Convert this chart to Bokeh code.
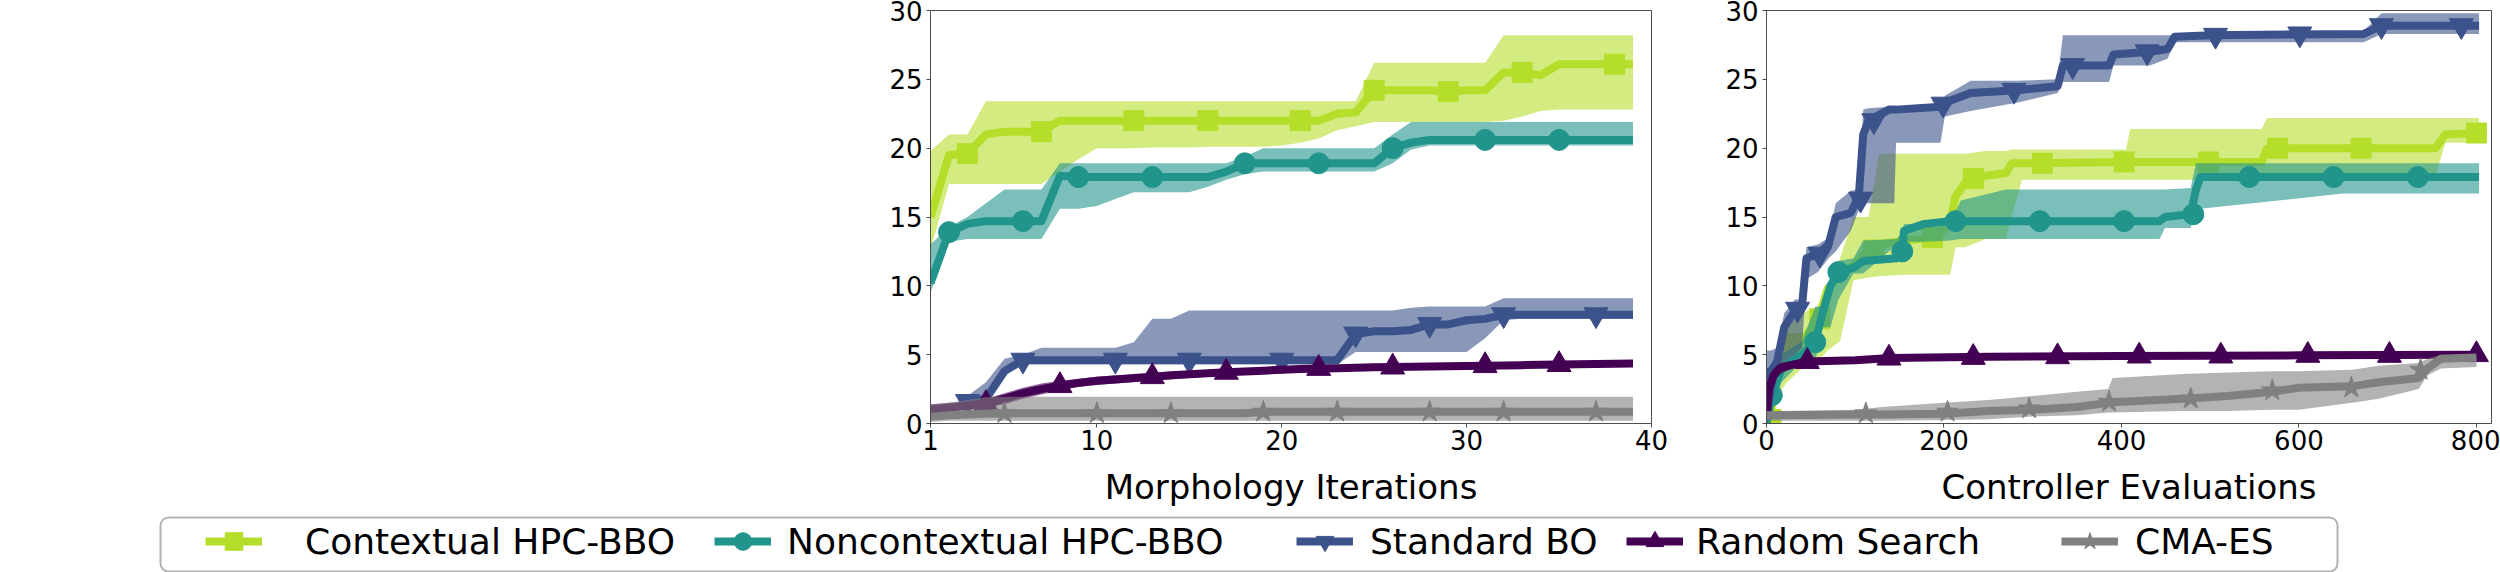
from bokeh.plotting import figure
from bokeh.models import (Range1d, FixedTicker, Legend, LegendItem, BoxAnnotation,
                          Row, Column)
from bokeh.embed import file_html
from bokeh.resources import INLINE

FONT = "DejaVu Sans"

series_names = ["Contextual HPC-BBO", "Noncontextual HPC-BBO", "Standard BO",
                "Random Search", "CMA-ES"]
series_colors = ["#b5de2b", "#21958b", "#3b528b", "#440154", "#808080"]
series_markers = ["square", "circle", "inverted_triangle", "triangle", "star"]
marker_sizes = [20, 21, 24, 24, 23]

# ---------------- left panel: Morphology Iterations ----------------
morph_ticks = [1, 10, 20, 30, 40]
morph_x = list(range(1, 40))
std_morph_x = list(range(3, 40))

ctx_m_y = [15.0, 19.5, 19.6, 21.0, 21.2, 21.2, 21.2, 22.0, 22.0, 22.0, 22.0, 22.0, 22.0,
           22.0, 22.0, 22.0, 22.0, 22.0, 22.0, 22.0, 22.0, 22.0, 22.5, 22.6, 24.2, 24.2,
           24.2, 24.2, 24.1, 24.2, 24.2, 25.5, 25.5, 25.3, 26.1, 26.1, 26.1, 26.1, 26.1]
ctx_m_hi = [19.8, 21.0, 21.0, 23.4, 23.4, 23.4, 23.4, 23.4, 23.4, 23.4, 23.4, 23.4, 23.4,
            23.4, 23.4, 23.4, 23.4, 23.4, 23.4, 23.4, 23.4, 23.4, 23.4, 23.4, 26.2, 26.2,
            26.2, 26.2, 26.2, 26.2, 26.2, 28.2, 28.2, 28.2, 28.2, 28.2, 28.2, 28.2, 28.2]
ctx_m_lo = [12.6, 17.4, 17.4, 17.4, 17.4, 17.4, 17.4, 18.3, 19.2, 20.0, 20.0, 20.0, 20.05,
            20.05, 20.05, 20.1, 20.1, 20.1, 20.1, 20.2, 20.4, 20.7, 21.3, 21.6, 21.9, 21.9,
            21.9, 21.9, 21.9, 21.9, 21.9, 22.0, 22.3, 22.7, 22.8, 22.8, 22.8, 22.8, 22.8]

nctx_m_y = [10.2, 13.9, 14.5, 14.7, 14.7, 14.7, 14.7, 18.0, 17.9, 17.9, 17.9, 17.9, 17.9,
            17.9, 17.9, 17.9, 18.3, 18.9, 18.9, 18.9, 18.9, 18.9, 18.9, 18.9, 18.9, 20.0,
            20.4, 20.6, 20.6, 20.6, 20.6, 20.6, 20.6, 20.6, 20.6, 20.6, 20.6, 20.6, 20.6]
nctx_m_hi = [13.0, 14.3, 15.0, 16.0, 17.0, 17.0, 17.0, 18.9, 18.9, 18.9, 18.9, 18.9, 18.9,
             18.9, 18.9, 18.9, 18.9, 19.4, 20.0, 20.0, 20.0, 20.0, 20.0, 20.0, 20.0, 21.0,
             21.9, 21.9, 21.9, 21.9, 21.9, 21.9, 21.9, 21.9, 21.9, 21.9, 21.9, 21.9, 21.9]
nctx_m_lo = [9.5, 13.2, 13.4, 13.4, 13.4, 13.4, 13.4, 15.6, 15.6, 15.8, 16.3, 16.8, 16.8,
             16.8, 16.8, 17.2, 17.7, 18.1, 18.3, 18.3, 18.3, 18.3, 18.3, 18.3, 18.3, 18.9,
             19.9, 20.2, 20.2, 20.2, 20.2, 20.2, 20.2, 20.2, 20.2, 20.2, 20.2, 20.2, 20.2]

std_m_y = [1.6, 1.8, 3.8, 4.6, 4.6, 4.6, 4.6, 4.6, 4.6, 4.6, 4.6, 4.6, 4.6, 4.6, 4.6,
           4.6, 4.6, 4.6, 4.6, 4.6, 4.6, 6.5, 6.7, 6.7, 6.8, 7.2, 7.2, 7.5, 7.6, 7.9,
           7.9, 7.9, 7.9, 7.9, 7.9, 7.9, 7.9]
std_m_hi = [2.0, 3.0, 4.7, 5.0, 5.5, 5.5, 5.5, 5.5, 5.5, 5.9, 7.6, 7.6, 8.2, 8.2, 8.2,
            8.2, 8.2, 8.2, 8.2, 8.2, 8.2, 8.2, 8.2, 8.2, 8.4, 8.5, 8.5, 8.5, 8.5, 9.1,
            9.1, 9.1, 9.1, 9.1, 9.1, 9.1, 9.1]
std_m_lo = [1.3, 1.5, 3.5, 4.3, 4.3, 4.3, 4.3, 4.3, 4.3, 4.3, 4.3, 4.3, 4.3, 4.3, 4.3,
            4.3, 4.3, 4.3, 4.3, 4.3, 4.3, 5.2, 5.2, 5.2, 5.2, 5.2, 5.2, 5.2, 6.2, 7.5,
            7.6, 7.6, 7.6, 7.6, 7.6, 7.6, 7.6]

rnd_m_y = [1.0, 1.15, 1.3, 1.45, 1.8, 2.2, 2.5, 2.75, 2.95, 3.1, 3.2, 3.3, 3.4, 3.5,
           3.58, 3.65, 3.72, 3.78, 3.84, 3.9, 3.95, 4.0, 4.02, 4.05, 4.08, 4.1, 4.12,
           4.14, 4.16, 4.18, 4.2, 4.22, 4.24, 4.26, 4.28, 4.3, 4.32, 4.34, 4.35]
rnd_m_hi = [1.4, 1.5, 1.6, 1.8, 2.2, 2.6, 2.9, 3.1, 3.25, 3.4, 3.5, 3.55, 3.65, 3.75,
            3.8, 3.85, 3.9, 3.95, 4.0, 4.05, 4.1, 4.15, 4.17, 4.2, 4.22, 4.24, 4.26,
            4.28, 4.3, 4.32, 4.34, 4.36, 4.38, 4.4, 4.42, 4.44, 4.46, 4.48, 4.5]
rnd_m_lo = [0.7, 0.85, 1.0, 1.15, 1.4, 1.8, 2.1, 2.4, 2.65, 2.8, 2.9, 3.0, 3.1, 3.2,
            3.3, 3.4, 3.5, 3.58, 3.65, 3.7, 3.75, 3.8, 3.84, 3.88, 3.92, 3.95, 3.97,
            4.0, 4.02, 4.04, 4.06, 4.08, 4.1, 4.12, 4.14, 4.16, 4.18, 4.2, 4.22]

cma_m_y = [0.5, 0.6, 0.65, 0.7, 0.75, 0.75, 0.75, 0.75, 0.75, 0.75, 0.75, 0.75, 0.75,
           0.75, 0.75, 0.75, 0.75, 0.75, 0.85, 0.85, 0.85, 0.85, 0.85, 0.85, 0.85, 0.85,
           0.85, 0.85, 0.85, 0.85, 0.85, 0.85, 0.85, 0.85, 0.85, 0.85, 0.85, 0.85, 0.85]
cma_m_hi = [1.3, 1.5, 1.7, 1.9, 1.95, 1.95, 1.95, 1.95, 1.95, 1.95, 1.95, 1.95, 1.95,
            1.95, 1.95, 1.95, 1.95, 1.95, 1.95, 1.95, 1.95, 1.95, 1.95, 1.95, 1.95, 1.95,
            1.95, 1.95, 1.95, 1.95, 1.95, 1.95, 1.95, 1.95, 1.95, 1.95, 1.95, 1.95, 1.95]
cma_m_lo = [0.1, 0.2, 0.2, 0.2, 0.2, 0.2, 0.2, 0.2, 0.2, 0.2, 0.2, 0.2, 0.2,
            0.2, 0.2, 0.2, 0.2, 0.2, 0.2, 0.2, 0.2, 0.2, 0.2, 0.2, 0.2, 0.2,
            0.2, 0.2, 0.2, 0.2, 0.2, 0.2, 0.2, 0.2, 0.2, 0.2, 0.2, 0.2, 0.2]

# markers (left panel)
ctx_m_mx = [3, 7, 12, 16, 21, 25, 29, 33, 38]
ctx_m_my = [19.6, 21.2, 22.0, 22.0, 22.0, 24.2, 24.1, 25.5, 26.1]
nctx_m_mx = [2, 6, 9, 13, 18, 22, 26, 31, 35]
nctx_m_my = [13.9, 14.7, 17.9, 17.9, 18.9, 18.9, 20.0, 20.6, 20.6]
std_m_mx = [3, 6, 11, 15, 20, 24, 28, 32, 37]
std_m_my = [1.6, 4.6, 4.6, 4.6, 4.6, 6.5, 7.2, 7.9, 7.9]
rnd_m_mx = [4, 8, 13, 17, 22, 26, 31, 35]
rnd_m_my = [1.45, 2.75, 3.4, 3.72, 4.0, 4.1, 4.2, 4.28]
cma_m_mx = [5, 10, 14, 19, 23, 28, 32, 37]
cma_m_my = [0.75, 0.75, 0.75, 0.85, 0.85, 0.85, 0.85, 0.85]

# ---------------- right panel: Controller Evaluations ----------------
ctrl_ticks = [0, 200, 400, 600, 800]

ctx_c_x = [0, 4, 12, 23, 40, 58, 69, 83, 98, 115, 127, 155, 190, 207, 213, 224, 247,
           270, 276, 288, 405, 410, 558, 564, 754, 765, 803]
ctx_c_y = [0.0, 0.5, 3.5, 5.6, 6.0, 7.5, 9.8, 10.8, 11.5, 12.6, 13.0, 13.3, 13.5, 14.5,
           16.5, 17.5, 18.0, 18.2, 18.9, 18.9, 19.0, 19.0, 19.0, 20.0, 20.0, 21.0, 21.1]
ctx_c_hi = [0.5, 1.5, 5.0, 7.0, 8.0, 8.5, 10.0, 12.0, 15.0, 15.0, 19.6, 19.6, 19.6, 19.6,
            19.6, 19.6, 19.8, 19.8, 19.9, 19.9, 19.9, 21.4, 21.4, 22.2, 22.2, 22.2, 22.2]
ctx_c_lo = [0.0, 0.0, 2.0, 3.0, 4.0, 4.5, 5.3, 6.0, 10.4, 10.6, 10.7, 10.8, 10.8, 10.8,
            12.8, 12.8, 13.4, 13.4, 15.0, 17.7, 17.7, 17.7, 17.7, 18.0, 18.0, 20.4, 20.4]

nctx_c_x = [0, 6, 17, 40, 55, 63, 72, 81, 98, 109, 147, 153, 155, 178, 207, 219, 270,
            443, 449, 478, 484, 489, 650, 803]
nctx_c_y = [0.0, 2.0, 4.0, 5.0, 5.9, 8.0, 10.0, 11.0, 11.3, 11.8, 12.0, 12.5, 14.0, 14.5,
            14.7, 14.7, 14.7, 14.7, 15.0, 15.2, 17.0, 17.9, 17.9, 17.9]
nctx_c_hi = [1.0, 3.0, 5.0, 6.0, 8.5, 8.5, 9.5, 11.8, 12.0, 13.3, 13.4, 14.0, 14.5, 14.5,
             14.6, 16.2, 17.0, 17.0, 17.0, 17.1, 18.9, 18.9, 18.9, 18.9]
nctx_c_lo = [0.0, 1.0, 3.0, 4.5, 4.5, 7.0, 7.0, 9.0, 10.9, 10.9, 13.0, 13.2, 13.2, 13.2,
             13.3, 13.4, 13.4, 13.4, 14.2, 14.2, 15.6, 15.6, 16.7, 16.7]

std_c_x = [0, 5, 12, 20, 32, 40, 45, 58, 70, 78, 95, 104, 109, 115, 138, 144, 146, 196,
           201, 230, 282, 328, 334, 386, 391, 432, 452, 460, 501, 673, 693, 803]
std_c_y = [3.0, 3.8, 4.5, 7.0, 8.2, 8.5, 12.0, 12.3, 13.0, 15.0, 15.3, 16.5, 21.0, 22.0,
           22.8, 22.8, 22.8, 23.0, 23.3, 24.0, 24.2, 24.5, 26.0, 26.0, 26.8, 27.0, 27.2,
           28.1, 28.2, 28.3, 28.9, 28.9]
std_c_hi = [5.3, 5.3, 5.5, 8.0, 9.0, 9.0, 12.8, 13.0, 13.5, 16.0, 16.9, 17.0, 22.8, 22.9,
            23.0, 23.0, 23.0, 23.1, 23.8, 24.9, 24.9, 25.0, 28.2, 28.2, 28.2, 28.2, 28.2,
            28.2, 28.5, 28.5, 29.8, 29.8]
std_c_lo = [0.0, 0.5, 3.5, 4.5, 5.0, 5.5, 10.5, 11.0, 12.0, 12.5, 14.0, 15.5, 16.0, 16.0,
            16.0, 16.0, 20.4, 20.4, 22.3, 22.7, 23.3, 24.0, 24.8, 24.8, 26.0, 26.0, 26.5,
            27.7, 27.7, 27.7, 28.3, 28.3]

rnd_c_x = [0, 3, 8, 15, 25, 45, 100, 140, 250, 400, 600, 800]
rnd_c_y = [0.5, 2.5, 3.5, 4.0, 4.2, 4.5, 4.6, 4.75, 4.85, 4.9, 4.95, 5.0]
rnd_c_hi = [1.0, 3.2, 4.0, 4.4, 4.5, 4.75, 4.8, 4.95, 5.05, 5.1, 5.15, 5.2]
rnd_c_lo = [0.0, 1.8, 3.0, 3.6, 3.9, 4.25, 4.4, 4.55, 4.65, 4.7, 4.75, 4.8]

cma_c_x = [0, 100, 130, 200, 250, 300, 350, 385, 390, 470, 520, 570, 600, 660, 690,
           735, 745, 760, 800]
cma_c_y = [0.6, 0.65, 0.65, 0.7, 0.9, 1.0, 1.2, 1.5, 1.55, 1.8, 2.0, 2.3, 2.6, 2.7, 3.0,
           3.3, 4.0, 4.7, 4.8]
cma_c_hi = [0.9, 1.0, 1.2, 1.5, 1.7, 2.0, 2.3, 2.5, 3.3, 3.6, 3.7, 3.8, 3.8, 3.9, 4.2,
            4.4, 4.7, 5.0, 5.0]
cma_c_lo = [0.2, 0.2, 0.2, 0.25, 0.3, 0.5, 0.6, 0.8, 0.8, 0.9, 0.9, 1.0, 1.0, 1.5, 1.8,
            2.5, 3.5, 4.0, 4.1]

# markers (right panel)
ctx_c_mx = [5, 30, 60, 121, 187, 233, 311, 403, 498, 576, 670, 800]
ctx_c_my = [0.3, 5.8, 7.6, 12.6, 13.5, 17.8, 18.9, 19.0, 19.0, 20.0, 20.0, 21.1]
nctx_c_mx = [6, 55, 81, 153, 213, 308, 403, 481, 544, 639, 734]
nctx_c_my = [2.05, 5.9, 11.0, 12.5, 14.7, 14.7, 14.7, 15.2, 17.9, 17.9, 17.9]
std_c_mx = [3, 35, 60, 106, 121, 199, 279, 345, 429, 506, 601, 693, 783]
std_c_my = [3.5, 8.3, 12.3, 16.3, 22.0, 23.2, 24.2, 26.0, 27.0, 28.2, 28.3, 28.9, 28.9]
rnd_c_mx = [46, 138, 233, 328, 420, 512, 610, 702, 800]
rnd_c_my = [4.5, 4.75, 4.8, 4.85, 4.9, 4.9, 4.95, 4.95, 5.0]
cma_c_mx = [112, 204, 296, 386, 478, 570, 659, 737]
cma_c_my = [0.73, 0.85, 1.09, 1.57, 1.8, 2.4, 2.6, 3.9]

left_series = [
    (morph_x, ctx_m_y, ctx_m_lo, ctx_m_hi, ctx_m_mx, ctx_m_my),
    (morph_x, nctx_m_y, nctx_m_lo, nctx_m_hi, nctx_m_mx, nctx_m_my),
    (std_morph_x, std_m_y, std_m_lo, std_m_hi, std_m_mx, std_m_my),
    (morph_x, rnd_m_y, rnd_m_lo, rnd_m_hi, rnd_m_mx, rnd_m_my),
    (morph_x, cma_m_y, cma_m_lo, cma_m_hi, cma_m_mx, cma_m_my),
]
right_series = [
    (ctx_c_x, ctx_c_y, ctx_c_lo, ctx_c_hi, ctx_c_mx, ctx_c_my),
    (nctx_c_x, nctx_c_y, nctx_c_lo, nctx_c_hi, nctx_c_mx, nctx_c_my),
    (std_c_x, std_c_y, std_c_lo, std_c_hi, std_c_mx, std_c_my),
    (rnd_c_x, rnd_c_y, rnd_c_lo, rnd_c_hi, rnd_c_mx, rnd_c_my),
    (cma_c_x, cma_c_y, cma_c_lo, cma_c_hi, cma_c_mx, cma_c_my),
]

SPINE = "#4d4d4d"


def make_panel(series, x_range, xticks, xlabel, width, b_left, b_right):
    # canvas starts 8 px above the window (root margin), so the frame top sits at y=10
    p = figure(width=width, height=518, x_range=x_range, y_range=Range1d(0, 30),
               min_border_left=b_left, min_border_right=b_right, min_border_top=18,
               min_border_bottom=87, toolbar_location=None, output_backend="svg")
    p.grid.visible = False
    p.outline_line_color = SPINE
    p.outline_line_width = 1
    p.xaxis.ticker = FixedTicker(ticks=xticks)
    p.yaxis.ticker = FixedTicker(ticks=[0, 5, 10, 15, 20, 25, 30])
    for ax in (p.xaxis[0], p.yaxis[0]):
        ax.axis_line_color = SPINE
        ax.major_tick_line_color = SPINE
        ax.major_tick_in = 0
        ax.major_tick_out = 4
        ax.minor_tick_in = 0
        ax.minor_tick_out = 0
        ax.major_label_text_font = FONT
        ax.major_label_text_font_size = "26px"
        ax.major_label_text_color = "black"
    p.xaxis.major_label_standoff = 2
    p.yaxis.major_label_standoff = 4
    p.xaxis.axis_label = xlabel
    p.xaxis.axis_label_text_font = FONT
    p.xaxis.axis_label_text_font_size = "34px"
    p.xaxis.axis_label_text_font_style = "normal"
    p.xaxis.axis_label_text_color = "black"
    p.xaxis.axis_label_standoff = 14
    for (x, y, lo, hi, mx, my), color, marker, ms in zip(series, series_colors,
                                                          series_markers, marker_sizes):
        p.varea(x=x, y1=lo, y2=hi, fill_color=color, fill_alpha=0.6)
        p.line(x=x, y=y, line_color=color, line_width=8, line_join="round")
        p.scatter(x=mx, y=my, marker=marker, size=ms, fill_color=color,
                  line_color=color)
    return p


p_left = make_panel(left_series, Range1d(1, 40), morph_ticks, "Morphology Iterations",
                    1681, 930, 30)
p_right = make_panel(right_series, Range1d(0, 817), ctrl_ticks, "Controller Evaluations",
                     819, 85, 9)

# ---------------- legend strip (62 px tall, y measured upward in px) ----------------
leg = figure(width=2500, height=62, x_range=Range1d(0, 2500), y_range=Range1d(0, 62),
             min_border=0, toolbar_location=None, output_backend="svg",
             x_axis_location=None, y_axis_location=None)
leg.grid.visible = False
leg.outline_line_color = None
leg.add_layout(BoxAnnotation(left=160, right=2337, top=55, bottom=1,
                             fill_color=None, fill_alpha=0, line_color="black",
                             line_width=2, border_radius=8))

glyph_lefts = [205, 714, 1296, 1626, 2061]
text_lefts = [305, 787, 1370, 1696, 2135]
for name, color, marker, ms, gl, tl in zip(series_names, series_colors, series_markers,
                                           marker_sizes, glyph_lefts, text_lefts):
    # off-frame placeholder renderers that only supply the legend glyph styles
    lr = leg.line(x=[-1000, -999], y=[-1000, -1000], line_color=color, line_width=8)
    sr = leg.scatter(x=[-1000], y=[-1000], marker=marker, size=ms, fill_color=color,
                     line_color=color)
    lg = Legend(items=[LegendItem(label=name, renderers=[lr, sr])], location=(gl, 9),
                orientation="horizontal", glyph_width=57, glyph_height=44, label_height=44,
                label_standoff=tl - gl - 57, padding=0, margin=0, spacing=0,
                border_line_color=None, background_fill_alpha=0,
                label_text_font=FONT, label_text_font_size="36px",
                label_text_color="black")
    leg.add_layout(lg, "center")

top = Row(children=[p_left, p_right], spacing=0)
root = Column(children=[top, leg], spacing=0, margin=(-8, 0, 0, 0))

open("out.html", "w").write(file_html(root, INLINE))
